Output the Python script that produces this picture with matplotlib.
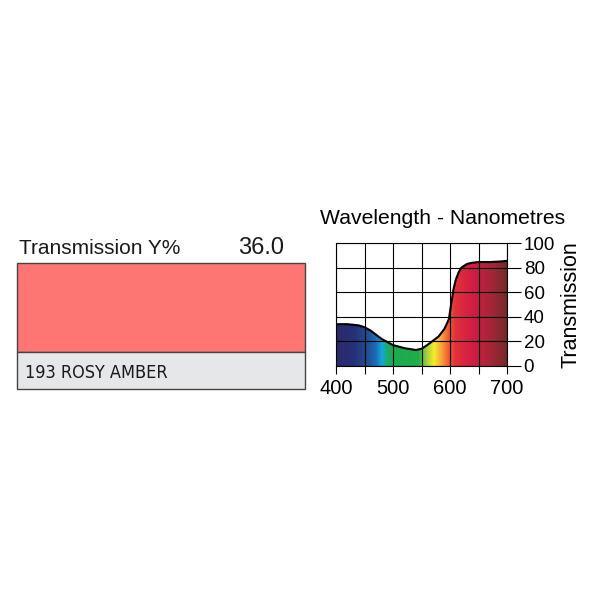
import numpy as np
import matplotlib.pyplot as plt
from matplotlib.colors import LinearSegmentedColormap
from matplotlib.patches import Rectangle, Polygon

# filter data
filter_name = "193 ROSY AMBER"
transmission_y = "36.0"
swatch_color = "#fe7673"

wavelength = [400, 420, 440, 450, 460, 480, 500, 520, 540, 550, 560, 580,
              590, 598, 602, 606, 610, 615, 620, 630, 640, 650, 670, 690, 700]
transmission = [34, 34, 33, 31.5, 29, 22, 17, 14.5, 13, 14, 17, 24,
                30, 38, 50, 62, 70, 76, 80, 83, 84, 84.5, 84.5, 85, 85.5]

x_ticks = [400, 500, 600, 700]
y_ticks = [0, 20, 40, 60, 80, 100]

# spectrum colour stops (wavelength, colour)
spectrum = [(400, "#2b2a6a"), (430, "#272f78"), (455, "#1f4f93"), (470, "#1c6fb8"),
            (480, "#17a6e0"), (490, "#19ad6a"), (500, "#1aaa50"), (545, "#20ad4a"),
            (560, "#a8d23a"), (572, "#f5ec2a"), (585, "#f8a637"), (598, "#ee5a34"),
            (610, "#e2323a"), (640, "#d21c45"), (670, "#a82638"), (700, "#762a2a")]

plt.rcParams['font.family'] = ['Liberation Sans', 'DejaVu Sans']

fig = plt.figure(figsize=(6, 6), dpi=100)
W, H = 600, 600


def px_axes(x0, y0, x1, y1):
    return fig.add_axes([x0 / W, 1 - y1 / H, (x1 - x0) / W, (y1 - y0) / H])


# ---- left panel: swatch ----
fig.text(19 / W, 1 - 249 / H, "Transmission Y%", fontsize=15, va="center", ha="left", color="#1a1a1a")
fig.text(284 / W, 1 - 248 / H, transmission_y, fontsize=17, va="center", ha="right", color="#1a1a1a")
fig.patches.append(Rectangle((17 / W, 1 - 352 / H), 288 / W, 89 / H, transform=fig.transFigure,
                             facecolor=swatch_color, edgecolor="#444444", lw=1))
fig.patches.append(Rectangle((17 / W, 1 - 389 / H), 288 / W, 37 / H, transform=fig.transFigure,
                             facecolor="#e6e7e9", edgecolor="#444444", lw=1))
fig.text(25 / W, 1 - 373 / H, filter_name, fontsize=13, va="center", ha="left", color="#1a1a1a",
         family="DejaVu Sans", fontstretch="condensed")

# ---- right panel: spectral curve ----
ax = px_axes(336, 243, 507, 366)
ax.set_xlim(400, 700)
ax.set_ylim(0, 100)

cmap = LinearSegmentedColormap.from_list(
    "spec", [((w - 400) / 300, c) for w, c in spectrum])
grad = np.linspace(0, 1, 600).reshape(1, -1)
img = ax.imshow(grad, cmap=cmap, aspect="auto", extent=[400, 700, 0, 100], zorder=1)
poly_xy = list(zip(wavelength, transmission)) + [(700, 0), (400, 0)]
clip = Polygon(poly_xy, closed=True, transform=ax.transData, facecolor="none", edgecolor="none")
ax.add_patch(clip)
img.set_clip_path(clip)
ax.plot(wavelength, transmission, color="black", lw=1.5, zorder=3, solid_capstyle="butt")

ax.set_xticks(range(400, 701, 50))
ax.set_xticklabels([str(t) if t in x_ticks else "" for t in range(400, 701, 50)])
ax.set_yticks(y_ticks)
ax.grid(True, color="black", lw=0.8, zorder=2)
ax.set_axisbelow(False)
ax.yaxis.tick_right()
ax.yaxis.set_label_position("right")
ax.tick_params(axis="y", length=10, width=0.8, pad=2, labelsize=13.5, colors="black")
ax.tick_params(axis="x", length=6, width=0.8, pad=3, labelsize=14.5, colors="black")
for s in ax.spines.values():
    s.set_linewidth(0.8)
ax.set_ylabel("Transmission", fontsize=15.5, labelpad=4)
ax.set_title("Wavelength - Nanometres", fontsize=15.2, pad=14, x=0.626)

fig.savefig("out.png", dpi=100, facecolor="white")
